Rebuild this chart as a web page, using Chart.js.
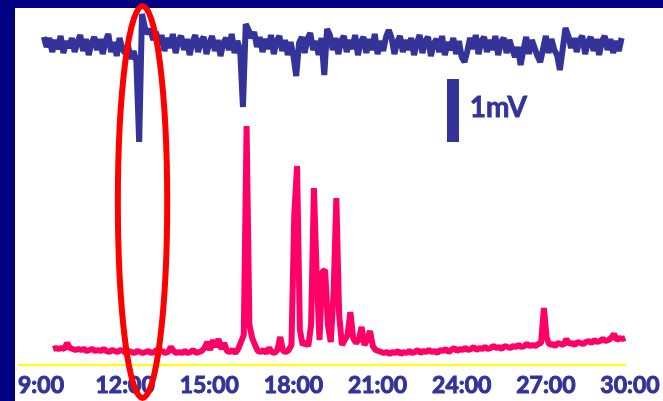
<!DOCTYPE html>
<html><head><meta charset="utf-8">
<script src="https://cdn.jsdelivr.net/npm/chart.js@4"></script>
<style>html,body{margin:0;padding:0;background:#000080;overflow:hidden}canvas{display:block}</style>
</head><body><canvas id="c" width="663" height="401"></canvas>
<script>
// x axis: minutes; y axis: signal height above the yellow baseline (arbitrary units, 63 units = 1 mV)
const tickValues = [9, 12, 15, 18, 21, 24, 27, 30];
const tickLabels = ['9:00', '12:00', '15:00', '18:00', '21:00', '24:00', '27:00', '30:00'];

const blueStart = 9.1, blueStep = 0.1;
const blueValues = [
328,318,327,313,325,316,329,312,324,317,
327,313,323,330,314,326,310,322,328,315,
326,311,324,331,313,323,309,327,316,312,
320,306,314,304,223,351,338,331,336,325,
333,320,330,314,327,317,331,312,325,329,
315,326,310,323,330,313,324,328,311,322,
329,314,325,309,322,327,315,331,312,324,
315,258,341,335,327,333,318,328,313,326,
316,330,311,324,329,314,325,310,323,309,
289,322,328,312,326,332,315,324,310,327,
290,336,330,315,327,311,324,329,313,325,
316,330,310,323,328,312,326,315,331,311,
324,314,328,335,327,311,323,329,313,325,
315,327,310,322,330,312,324,328,309,321,
326,313,329,310,323,315,327,311,324,308,
303,314,327,316,330,311,324,328,313,325,
315,329,310,323,327,312,325,316,308,318,
300,315,328,311,325,317,309,303,316,329,
312,326,315,310,295,316,337,329,317,327,
313,325,329,311,323,328,314,326,310,324,
329,315,326,312,324,314,327
];

const pinkStart = 9.43, pinkStep = 0.1;
const pinkValues = [
16,17,16,17,16,22,17,16,15,16,
15,16,14,15,16,14,15,14,16,14,
13,15,14,13,15,14,12,14,13,12,
14,13,12,13,14,12,13,15,13,14,
12,13,18,14,12,13,12,14,12,13,
15,12,13,14,17,23,15,25,18,26,
16,22,14,13,15,12,16,23,30,239,
40,27,20,14,13,15,12,17,13,12,
15,28,14,13,15,20,150,199,35,20,
23,19,40,177,90,25,93,95,40,23,
70,167,50,20,25,30,53,27,22,25,
38,20,25,34,19,15,14,13,12,13,
11,13,12,14,11,13,12,14,12,13,
15,12,14,13,15,13,14,12,15,14,
16,13,15,17,14,16,15,17,15,16,
18,15,17,16,18,16,17,19,17,18,
16,19,18,17,19,18,20,18,19,21,
19,20,19,21,22,57,27,20,21,19,
22,21,20,26,21,22,20,23,22,21,
23,24,22,25,23,24,26,24,25,27,
31,25,27,26,27
];

const baselineTimes = [8.18, 29.86];
const baselineValues = [0, 0];

const scaleBarTimes = [23.69, 23.69];
const scaleBarValues = [223, 286];
const scaleBarLabel = '1mV';
const scaleLabelPos = { x: 24.29, y: 257 };

const ellipseMark = { x: 12.62, y: 163, rx: 0.88, ry: 196 };

const NAVY = '#000080', TRACE_BLUE = '#333399', PINK = '#ff0066';

const toPoints = (start, step, vals) => vals.map((v, i) => ({ x: start + step * i, y: v }));
const zipPoints = (xs, ys) => xs.map((x, i) => ({ x: x, y: ys[i] }));

const framePlugin = {
  id: 'frame',
  beforeDraw(chart) {
    const ctx = chart.ctx;
    ctx.save();
    ctx.fillStyle = NAVY;
    ctx.fillRect(0, 0, chart.width, chart.height);
    ctx.fillStyle = '#ffffff';
    ctx.fillRect(15, 8, chart.width - 15, chart.height - 8);
    ctx.restore();
  },
  afterDraw(chart) {
    const ctx = chart.ctx, xs = chart.scales.x, ys = chart.scales.y;
    ctx.save();
    ctx.fillStyle = TRACE_BLUE;
    ctx.strokeStyle = TRACE_BLUE;
    ctx.lineWidth = 0.8;
    ctx.font = 'bold 28px Lato';
    ctx.textBaseline = 'middle';
    ctx.textAlign = 'left';
    const lx = xs.getPixelForValue(scaleLabelPos.x), ly = ys.getPixelForValue(scaleLabelPos.y);
    ctx.fillText(scaleBarLabel, lx, ly);
    ctx.strokeText(scaleBarLabel, lx, ly);
    const cx = xs.getPixelForValue(ellipseMark.x), cy = ys.getPixelForValue(ellipseMark.y);
    const rx = xs.getPixelForValue(ellipseMark.x + ellipseMark.rx) - cx;
    const ry = ys.getPixelForValue(ellipseMark.y - ellipseMark.ry) - cy;
    ctx.beginPath();
    ctx.ellipse(cx, cy, rx, ry, 0, 0, Math.PI * 2);
    ctx.strokeStyle = '#ff0000';
    ctx.lineWidth = 6;
    ctx.stroke();
    ctx.restore();
  }
};

new Chart(document.getElementById('c'), {
  type: 'line',
  data: {
    datasets: [
      { data: toPoints(blueStart, blueStep, blueValues), borderColor: TRACE_BLUE, borderWidth: 6, borderJoinStyle: 'bevel', pointRadius: 0, clip: false },
      { data: toPoints(pinkStart, pinkStep, pinkValues), borderColor: PINK, borderWidth: 6, borderJoinStyle: 'bevel', pointRadius: 0, clip: false },
      { data: zipPoints(scaleBarTimes, scaleBarValues), borderColor: TRACE_BLUE, borderWidth: 12, borderCapStyle: 'butt', pointRadius: 0, clip: false },
      { data: zipPoints(baselineTimes, baselineValues), borderColor: '#ffff00', borderWidth: 2, pointRadius: 0, clip: false }
    ]
  },
  options: {
    responsive: false,
    animation: false,
    events: [],
    layout: { padding: { left: 18, top: 8, right: 33, bottom: 0 } },
    plugins: { legend: { display: false }, tooltip: { enabled: false } },
    scales: {
      x: {
        type: 'linear',
        min: 8.18,
        max: 30,
        grid: { display: false, drawTicks: false },
        border: { display: false },
        afterBuildTicks: (s) => { s.ticks = tickValues.map(v => ({ value: v })); },
        afterFit: (s) => { s.paddingLeft = 0; s.paddingRight = 0; s.height = 36; },
        ticks: {
          autoSkip: false, maxRotation: 0, minRotation: 0, padding: 7,
          color: TRACE_BLUE,
          textStrokeColor: TRACE_BLUE,
          textStrokeWidth: 1,
          font: { family: 'Lato', size: 23, weight: 'bold' },
          callback: (v) => tickLabels[tickValues.indexOf(v)]
        }
      },
      y: { type: 'linear', display: false, min: 0, max: 357 }
    }
  },
  plugins: [framePlugin]
});
</script>
</body></html>
